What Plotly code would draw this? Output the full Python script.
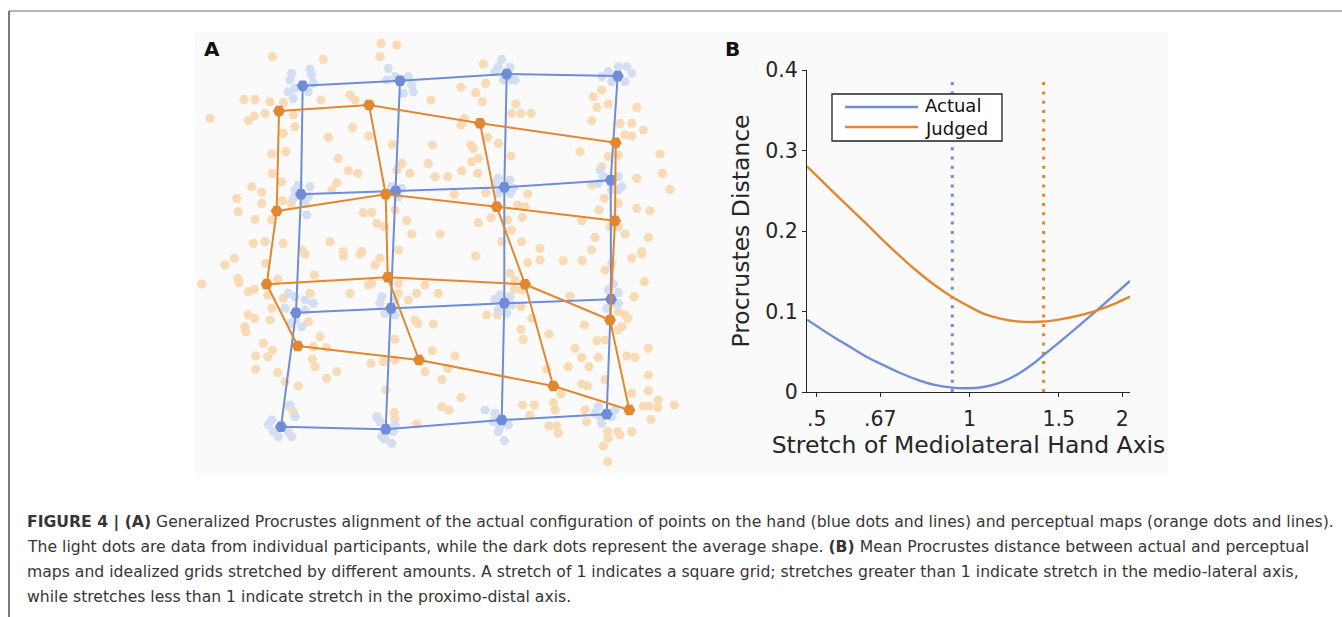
import math
import plotly.graph_objects as go

W, H = 1342, 617

# ---------------- Panel A data (aligned shape coordinates) ----------------
blue_x = [[302.7, 400.0, 506.7, 617.7],
          [301.0, 395.7, 504.3, 610.7],
          [296.0, 391.0, 504.3, 611.0],
          [281.0, 385.7, 501.7, 606.7]]
blue_y = [[85.7, 80.7, 74.0, 76.0],
          [194.3, 191.0, 187.3, 180.3],
          [312.7, 308.3, 303.3, 299.3],
          [426.7, 429.3, 420.0, 414.3]]

orange_x = [[279.0, 369.0, 480.0, 615.7],
            [276.7, 385.7, 496.7, 615.0],
            [266.7, 387.7, 525.0, 610.0],
            [297.7, 419.0, 553.3, 629.3]]
orange_y = [[111.0, 105.0, 123.3, 142.7],
            [211.0, 194.3, 206.7, 220.7],
            [284.3, 277.3, 284.3, 320.0],
            [346.0, 360.0, 386.0, 410.0]]

judged_pts_x = [
    272.3, 323.3, 381.0, 396.7, 380.0, 244.0, 255.0, 270.0, 283.3, 321.0, 350.0, 355.0, 265.0, 248.3, 254.3,
    210.0, 293.3, 295.0, 283.3, 352.3, 328.3, 369.0, 392.3, 432.3, 431.0, 271.7, 285.7, 338.3, 428.3, 401.7,
    396.7, 348.3, 357.7, 410.0, 435.0, 251.7, 261.7, 272.3, 281.7, 336.7, 331.7, 236.7, 261.7, 238.3, 282.3,
    291.0, 363.3, 371.7, 255.0, 271.7, 376.7, 406.7, 395.0, 384.3, 411.7, 440.0, 330.0, 253.3, 265.0, 283.3,
    301.7, 343.3, 361.7, 398.3,
    483.3, 461.0, 475.7, 485.7, 482.3, 515.7, 511.7, 521.0, 531.0, 464.3, 461.0, 593.3, 601.7, 596.7, 608.3,
    636.7, 591.7, 620.0, 631.7, 643.3, 625.0, 631.7, 487.7, 471.0, 473.3, 498.3, 511.0, 478.3, 471.7, 461.7,
    477.7, 447.7, 580.0, 608.3, 618.3, 601.7, 636.7, 660.0, 662.3, 670.0, 591.7, 604.3, 599.0, 618.3, 636.7,
    650.0, 454.3, 485.7, 527.7, 517.7, 525.0, 522.3, 478.3, 491.0, 507.7, 511.7, 581.7, 610.0, 618.3, 625.0,
    595.0, 648.3, 501.7, 521.7, 540.0, 591.7, 641.7,
    225.0, 234.3, 237.7, 239.0, 265.7, 201.7, 248.3, 254.3, 267.7, 277.7, 283.3, 310.0, 314.3, 305.0, 350.0,
    360.0, 343.3, 375.0, 380.0, 368.3, 371.7, 398.3, 398.3, 408.3, 416.7, 425.0, 438.3, 270.0, 271.7, 248.3,
    254.3, 245.0, 245.7, 263.3, 272.3, 255.7, 267.7, 255.7, 277.7, 312.3, 315.0, 320.0, 326.7, 313.3, 326.7,
    336.7, 298.3, 285.0, 371.0, 383.3, 395.0, 395.0, 415.0, 417.7, 433.3, 432.3, 441.7, 425.0, 385.7, 441.7,
    394.3, 395.0, 416.7, 287.7, 293.3, 308.3,
    475.7, 527.7, 540.0, 563.3, 582.3, 631.7, 641.7, 605.0, 611.7, 644.3, 634.0, 570.0, 521.7, 514.3, 515.0,
    510.0, 521.0, 486.7, 497.7, 531.7, 521.0, 523.3, 549.0, 584.3, 596.7, 605.0, 618.3, 625.0, 627.7, 621.7,
    618.3, 575.0, 581.7, 598.3, 589.0, 568.3, 626.7, 635.0, 648.3, 546.7, 455.0, 447.7, 648.3, 605.0, 581.7,
    587.7, 561.0, 631.7, 648.3, 658.3, 649.0, 657.7, 674.3, 643.3, 461.0, 449.0, 522.7, 534.3, 553.3, 555.0,
    585.0, 530.0, 586.7, 549.0, 556.7, 558.3, 607.7, 617.7, 620.0, 631.7, 651.0, 608.3, 603.3, 607.7]
judged_pts_y = [
    56.7, 59.3, 43.3, 45.0, 56.7, 99.3, 99.3, 101.7, 102.7, 100.0, 95.0, 100.0, 113.3, 120.7, 116.0,
    118.3, 115.0, 126.7, 133.3, 127.7, 137.3, 136.0, 144.3, 145.0, 100.0, 154.0, 151.7, 158.3, 163.3, 163.3,
    170.0, 170.7, 173.3, 173.3, 176.7, 186.7, 192.3, 173.3, 181.7, 182.7, 190.0, 198.3, 203.3, 211.7, 200.7,
    203.3, 212.7, 212.7, 219.3, 220.0, 223.3, 220.7, 210.0, 226.7, 234.0, 234.0, 241.7, 243.3, 241.7, 243.3,
    250.0, 251.7, 251.7, 250.0,
    64.0, 87.3, 92.7, 83.3, 101.7, 104.0, 113.3, 113.3, 113.3, 118.3, 125.0, 96.7, 90.0, 107.3, 104.0,
    107.3, 120.7, 123.3, 123.3, 130.0, 135.0, 136.0, 137.3, 145.0, 148.3, 143.3, 156.0, 158.3, 161.7, 170.7,
    173.3, 176.7, 151.7, 156.7, 155.0, 166.7, 178.3, 154.0, 173.3, 189.3, 185.0, 198.3, 210.0, 203.3, 208.3,
    211.0, 194.3, 192.7, 194.0, 205.0, 206.7, 217.3, 222.7, 217.7, 220.0, 230.0, 220.7, 226.7, 226.7, 234.0,
    237.3, 237.3, 241.7, 241.7, 248.3, 250.0, 251.7,
    265.0, 258.3, 278.3, 282.7, 263.3, 284.0, 291.7, 289.3, 295.0, 279.3, 298.3, 293.3, 275.0, 254.0, 293.3,
    254.0, 256.0, 265.0, 258.3, 285.0, 283.3, 283.3, 293.3, 300.0, 293.3, 285.0, 293.3, 320.0, 308.3, 315.0,
    318.3, 326.7, 331.7, 343.3, 350.0, 356.0, 356.7, 369.3, 372.7, 359.3, 366.7, 336.7, 347.7, 346.7, 378.3,
    371.7, 386.0, 381.7, 363.3, 361.7, 339.3, 360.0, 320.0, 323.3, 324.0, 350.7, 379.3, 371.7, 390.0, 406.7,
    412.7, 419.3, 424.0, 406.0, 411.7, 321.7,
    256.0, 262.7, 260.0, 260.7, 260.7, 258.3, 254.0, 270.0, 263.3, 281.7, 296.7, 296.0, 290.0, 289.3, 280.7,
    273.3, 306.7, 315.0, 315.0, 318.3, 329.3, 339.3, 334.0, 325.0, 340.7, 340.0, 311.7, 315.0, 318.3, 326.7,
    330.0, 348.3, 357.3, 357.3, 366.7, 366.7, 356.0, 357.3, 348.3, 369.3, 356.0, 368.3, 375.0, 379.3, 384.0,
    386.0, 394.0, 393.3, 390.7, 400.0, 406.0, 407.3, 405.0, 406.0, 397.7, 410.0, 405.0, 405.0, 402.7, 410.0,
    410.0, 415.0, 421.7, 426.0, 426.0, 433.3, 431.7, 431.7, 435.0, 431.7, 419.3, 438.3, 446.0, 461.7]

actual_pts_x = [
    291.7, 310.0, 311.7, 290.0, 295.0, 313.3, 288.3, 293.3, 308.3,
    388.3, 395.0, 408.3, 386.7, 411.7, 403.3, 413.3,
    298.3, 310.0, 293.3, 308.3, 306.7, 295.0, 305.0,
    401.7, 391.7, 398.3,
    501.7, 498.3, 510.0, 495.0, 515.0, 503.3, 511.7,
    601.7, 608.3, 618.3, 626.7, 631.7, 625.0, 611.7,
    498.3, 510.0, 495.0, 513.3, 498.3, 510.0,
    600.0, 603.3, 618.3, 598.3, 621.7, 618.3, 611.7,
    288.3, 295.0, 305.0, 313.3, 285.0, 305.0, 295.0, 301.7, 290.0,
    381.7, 380.0, 395.0, 395.0, 385.0,
    268.3, 273.3, 278.3, 288.3, 291.7, 295.0, 290.0, 271.7,
    376.7, 380.0, 381.7, 393.3, 391.7, 385.0, 395.0,
    495.0, 500.0, 510.0, 511.7, 506.7, 498.3,
    613.3, 608.3, 618.3, 615.0, 606.7, 618.3,
    485.0, 495.0, 493.3, 500.0, 508.3, 498.3, 504.3,
    598.3, 600.0, 611.7, 601.7, 615.0, 595.0]
actual_pts_y = [
    73.3, 69.3, 75.0, 80.0, 88.3, 83.3, 91.7, 98.3, 91.7,
    68.3, 76.7, 76.7, 80.0, 85.0, 93.3, 91.7,
    185.0, 186.7, 198.3, 196.7, 215.0, 190.0, 203.3,
    188.3, 186.7, 196.7,
    59.3, 66.7, 67.3, 71.7, 80.0, 80.0, 80.0,
    76.7, 71.7, 66.7, 66.7, 73.3, 81.7, 81.7,
    178.3, 180.0, 183.3, 188.3, 193.3, 193.3,
    170.0, 176.7, 176.7, 183.3, 186.7, 190.0, 190.0,
    293.3, 296.7, 300.0, 303.3, 308.3, 310.0, 320.0, 326.7, 323.3,
    296.7, 303.3, 300.0, 315.0, 313.3,
    425.0, 431.7, 436.7, 431.7, 436.7, 416.7, 405.0, 420.0,
    416.7, 421.7, 436.7, 431.7, 443.3, 439.3, 425.0,
    299.3, 295.0, 296.7, 305.0, 313.3, 310.0,
    284.0, 290.0, 292.7, 303.3, 308.3, 303.3,
    410.0, 413.3, 421.7, 426.7, 425.0, 431.7, 440.7,
    406.7, 416.7, 416.7, 423.3, 410.0, 413.3]

# ---------------- Panel B data ----------------
stretch = [0.4783, 0.5397, 0.5820, 0.6280, 0.6670, 0.7302, 0.7878, 0.8495, 0.9245, 0.9883, 1.0656,
           1.1495, 1.2397, 1.3367, 1.3988, 1.5088, 1.6277, 1.7549, 1.8229, 1.9510, 2.0725]
actual_dist = [0.0899, 0.0683, 0.0559, 0.0435, 0.0352, 0.0236, 0.0154, 0.0092, 0.0055, 0.0046, 0.0062,
               0.0117, 0.0215, 0.0355, 0.0456, 0.0625, 0.0800, 0.0977, 0.1068, 0.1233, 0.1381]
judged_dist = [0.2804, 0.2481, 0.2282, 0.2083, 0.1918, 0.1686, 0.1503, 0.1338, 0.1180, 0.1077, 0.0974,
               0.0912, 0.0878, 0.0870, 0.0875, 0.0903, 0.0944, 0.0999, 0.1035, 0.1108, 0.1185]
actual_best = 0.925
judged_best = 1.40
best_line_top = 0.392
x_range = [0.4783, 2.0725]
x_tickvals = [0.5, 0.667, 1, 1.5, 2]
x_ticktext = [".5", ".67", "1", "1.5", "2"]
y_tickvals = [0, 0.1, 0.2, 0.3, 0.4]
y_ticktext = ["0", "0.1", "0.2", "0.3", "0.4"]
series_names = ["Actual", "Judged"]

caption_lines = [
    "<b>FIGURE 4 | (A)</b> Generalized Procrustes alignment of the actual configuration of points on the hand (blue dots and lines) and perceptual maps (orange dots and lines).",
    "The light dots are data from individual participants, while the dark dots represent the average shape. <b>(B)</b> Mean Procrustes distance between actual and perceptual",
    "maps and idealized grids stretched by different amounts. A stretch of 1 indicates a square grid; stretches greater than 1 indicate stretch in the medio-lateral axis,",
    "while stretches less than 1 indicate stretch in the proximo-distal axis.",
]

BLUE = "#6F8DD7"
ORANGE = "#E3872F"
LIGHT_BLUE = "#D3DEF2"
LIGHT_ORANGE = "#F8DAB4"
FONT = "DejaVu Sans, Liberation Sans, Arial, sans-serif"
INK = "#262626"


def px(x):
    return x / W


def py(y):
    return 1 - y / H


def grid_path(gx, gy):
    xs, ys = [], []
    n = len(gx)
    for r in range(n):
        xs += gx[r] + [None]
        ys += gy[r] + [None]
    for c in range(len(gx[0])):
        xs += [gx[r][c] for r in range(n)] + [None]
        ys += [gy[r][c] for r in range(n)] + [None]
    return xs, ys


fig = go.Figure()

# Panel A
fig.add_trace(go.Scatter(x=judged_pts_x, y=judged_pts_y, mode="markers", xaxis="x", yaxis="y",
                         marker=dict(symbol="hexagon2", size=10, color=LIGHT_ORANGE), showlegend=False,
                         hoverinfo="skip"))
fig.add_trace(go.Scatter(x=actual_pts_x, y=actual_pts_y, mode="markers", xaxis="x", yaxis="y",
                         marker=dict(symbol="hexagon2", size=10, color=LIGHT_BLUE), showlegend=False,
                         hoverinfo="skip"))
bx, by = grid_path(blue_x, blue_y)
fig.add_trace(go.Scatter(x=bx, y=by, mode="lines", xaxis="x", yaxis="y", line=dict(color=BLUE, width=2),
                         showlegend=False, connectgaps=False))
fig.add_trace(go.Scatter(x=sum(blue_x, []), y=sum(blue_y, []), mode="markers", xaxis="x", yaxis="y",
                         marker=dict(symbol="hexagon2", size=12, color=BLUE), showlegend=False))
ox, oy = grid_path(orange_x, orange_y)
fig.add_trace(go.Scatter(x=ox, y=oy, mode="lines", xaxis="x", yaxis="y", line=dict(color=ORANGE, width=2),
                         showlegend=False, connectgaps=False))
fig.add_trace(go.Scatter(x=sum(orange_x, []), y=sum(orange_y, []), mode="markers", xaxis="x", yaxis="y",
                         marker=dict(symbol="hexagon2", size=12, color=ORANGE), showlegend=False))

# Panel B
fig.add_trace(go.Scatter(x=[actual_best, actual_best], y=[0, best_line_top], mode="lines", xaxis="x2", yaxis="y2",
                         line=dict(color=BLUE, width=3, dash="3px,6.3px"), showlegend=False))
fig.add_trace(go.Scatter(x=[judged_best, judged_best], y=[0, best_line_top], mode="lines", xaxis="x2", yaxis="y2",
                         line=dict(color=ORANGE, width=3, dash="3px,6.3px"), showlegend=False))
fig.add_trace(go.Scatter(x=stretch, y=actual_dist, mode="lines", name=series_names[0], xaxis="x2", yaxis="y2",
                         line=dict(color=BLUE, width=2.4, shape="spline", smoothing=0.8), showlegend=False))
fig.add_trace(go.Scatter(x=stretch, y=judged_dist, mode="lines", name=series_names[1], xaxis="x2", yaxis="y2",
                         line=dict(color=ORANGE, width=2.4, shape="spline", smoothing=0.8), showlegend=False))

shapes = [
    # light figure background
    dict(type="rect", xref="paper", yref="paper", x0=px(195), x1=px(1168), y0=py(473), y1=py(32),
         fillcolor="#FAFAFA", line=dict(width=0), layer="below"),
    # frame
    dict(type="line", xref="paper", yref="paper", x0=px(9), x1=1, y0=py(11), y1=py(11),
         line=dict(color="#6E6E6E", width=1.2)),
    dict(type="line", xref="paper", yref="paper", x0=px(9), x1=px(9), y0=py(11), y1=0,
         line=dict(color="#333333", width=1.3)),
    # legend box
    dict(type="rect", xref="paper", yref="paper", x0=px(832), x1=px(1002), y0=py(141), y1=py(94),
         fillcolor="white", line=dict(color="#222222", width=1.3)),
    dict(type="line", xref="paper", yref="paper", x0=px(845), x1=px(918), y0=py(107), y1=py(107),
         line=dict(color=BLUE, width=2.4)),
    dict(type="line", xref="paper", yref="paper", x0=px(845), x1=px(918), y0=py(127), y1=py(127),
         line=dict(color=ORANGE, width=2.4)),
]

annotations = [
    dict(text="<b>A</b>", x=px(212), y=py(49), xref="paper", yref="paper", showarrow=False,
         font=dict(size=20, color="#111111", family=FONT), xanchor="center", yanchor="middle"),
    dict(text="<b>B</b>", x=px(732), y=py(49), xref="paper", yref="paper", showarrow=False,
         font=dict(size=20, color="#111111", family=FONT), xanchor="center", yanchor="middle"),
    dict(text=series_names[0], x=px(923), y=py(106), xref="paper", yref="paper", showarrow=False,
         font=dict(size=18, color="#111111", family=FONT), xanchor="left", yanchor="middle"),
    dict(text=series_names[1], x=px(923), y=py(128), xref="paper", yref="paper", showarrow=False,
         font=dict(size=18, color="#111111", family=FONT), xanchor="left", yanchor="middle"),
]
cap_y = [522, 546, 571, 596]
for line, yy in zip(caption_lines, cap_y):
    annotations.append(dict(text=line, x=px(25), y=py(yy), xref="paper", yref="paper", showarrow=False,
                            font=dict(size=15.65, color="#363636", family=FONT), xanchor="left",
                            yanchor="middle", align="left"))

fig.update_layout(
    width=W, height=H, margin=dict(l=0, r=0, t=0, b=0, pad=0, autoexpand=False),
    paper_bgcolor="white", plot_bgcolor="rgba(0,0,0,0)",
    showlegend=False,
    font=dict(family=FONT, color=INK),
    xaxis=dict(domain=[px(195), px(700)], range=[195, 700], visible=False, fixedrange=True, automargin=False),
    yaxis=dict(domain=[py(473), py(32)], range=[473, 32], visible=False, fixedrange=True, automargin=False),
    xaxis2=dict(domain=[px(807), px(1130)], type="log", automargin=False,
                range=[math.log10(x_range[0]), math.log10(x_range[1])],
                anchor="y2",
                tickvals=x_tickvals, ticktext=x_ticktext, ticks="outside", ticklen=4, tickwidth=1.2,
                tickcolor=INK, showline=True, linecolor=INK, linewidth=1.3, ticklabelstandoff=4,
                showgrid=False, zeroline=False, tickfont=dict(size=20.5, color=INK),
                title=dict(text="Stretch of Mediolateral Hand Axis", font=dict(size=23.5, color=INK),
                           standoff=1)),
    yaxis2=dict(domain=[py(392), py(70)], range=[0, 0.4], anchor="x2", automargin=False,
                tickvals=y_tickvals, ticktext=y_ticktext, ticks="outside", ticklen=4, tickwidth=1.2,
                tickcolor=INK, showline=True, linecolor=INK, linewidth=1.3,
                showgrid=False, zeroline=False, tickfont=dict(size=20.5, color=INK),
                title=dict(text="Procrustes Distance", font=dict(size=23.5, color=INK), standoff=8)),
    shapes=shapes,
    annotations=annotations,
)

fig.write_html("out.html", config={"displayModeBar": False},
               post_script="document.body.style.margin='0';")
